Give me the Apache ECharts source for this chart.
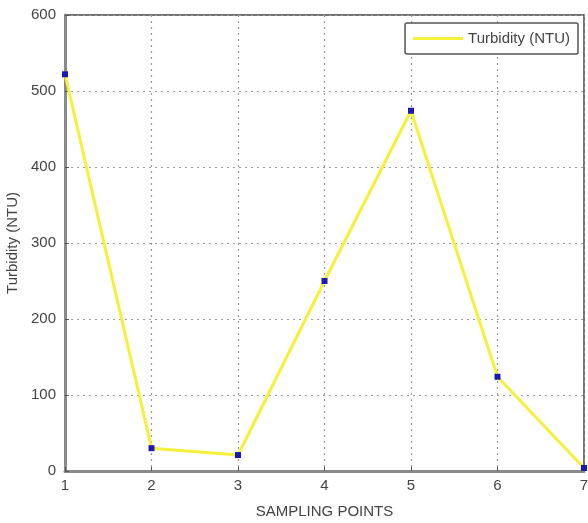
<!DOCTYPE html>
<html><head><meta charset="utf-8">
<script src="https://cdn.jsdelivr.net/npm/echarts@6/dist/echarts.min.js"></script>
<style>html,body{margin:0;padding:0;background:#fff}#c{width:588px;height:523px}</style>
</head><body><div id="c"></div>
<script>
const samplingPoints = [1, 2, 3, 4, 5, 6, 7];
const turbidity = [522, 30, 21, 250, 474, 124, 4];
const seriesName = 'Turbidity (NTU)';

const chart = echarts.init(document.getElementById('c'), null, {renderer: 'canvas'});
const font = '"Liberation Sans Narrow", "Liberation Sans", sans-serif';
const yellow = '#f5f03a';
chart.setOption({
  animation: false,
  backgroundColor: '#fff',
  grid: {left: 65, right: 4, top: 15, bottom: 52, show: true, borderColor: '#444', borderWidth: 1.5, backgroundColor: 'transparent', outerBoundsMode: 'none', containLabel: false},
  legend: {
    show: true, right: 10, top: 23, orient: 'vertical',
    backgroundColor: '#fff', borderColor: '#555', borderWidth: 1.5, borderRadius: 2,
    padding: [8, 8, 8, 8], itemWidth: 50, itemHeight: 3, itemGap: 6,
    textStyle: {fontFamily: font, fontSize: 15, color: '#444'},
    data: [{name: seriesName, icon: 'rect', itemStyle: {color: yellow}}]
  },
  xAxis: {
    type: 'value', min: 1, max: 7, interval: 1,
    name: 'SAMPLING POINTS', nameLocation: 'middle', nameGap: 33,
    nameTextStyle: {fontFamily: font, fontSize: 15, color: '#444'},
    axisLine: {lineStyle: {color: '#8a8a8a', width: 3}},
    axisTick: {inside: true, length: 4, lineStyle: {color: '#555'}},
    axisLabel: {fontFamily: font, fontSize: 15, color: '#444', margin: 7},
    splitLine: {show: true, lineStyle: {color: '#999', type: [2, 4], width: 1.2}}
  },
  yAxis: {
    type: 'value', min: 0, max: 600, interval: 100,
    name: 'Turbidity (NTU)', nameLocation: 'middle', nameGap: 44, nameRotate: 90,
    nameTextStyle: {fontFamily: font, fontSize: 15, color: '#444'},
    axisLine: {lineStyle: {color: '#8a8a8a', width: 3}},
    axisTick: {inside: true, length: 4, lineStyle: {color: '#555'}},
    axisLabel: {fontFamily: font, fontSize: 15, color: '#444', margin: 9},
    splitLine: {show: true, lineStyle: {color: '#999', type: [2, 4], width: 1.2}}
  },
  series: [{
    name: seriesName, type: 'line',
    data: samplingPoints.map((x, i) => [x, turbidity[i]]),
    symbol: 'rect', symbolSize: 6, showAllSymbol: true,
    lineStyle: {color: yellow, width: 3},
    itemStyle: {color: '#1a1ab0'},
    clip: false, z: 5
  }]
});
</script></body></html>
